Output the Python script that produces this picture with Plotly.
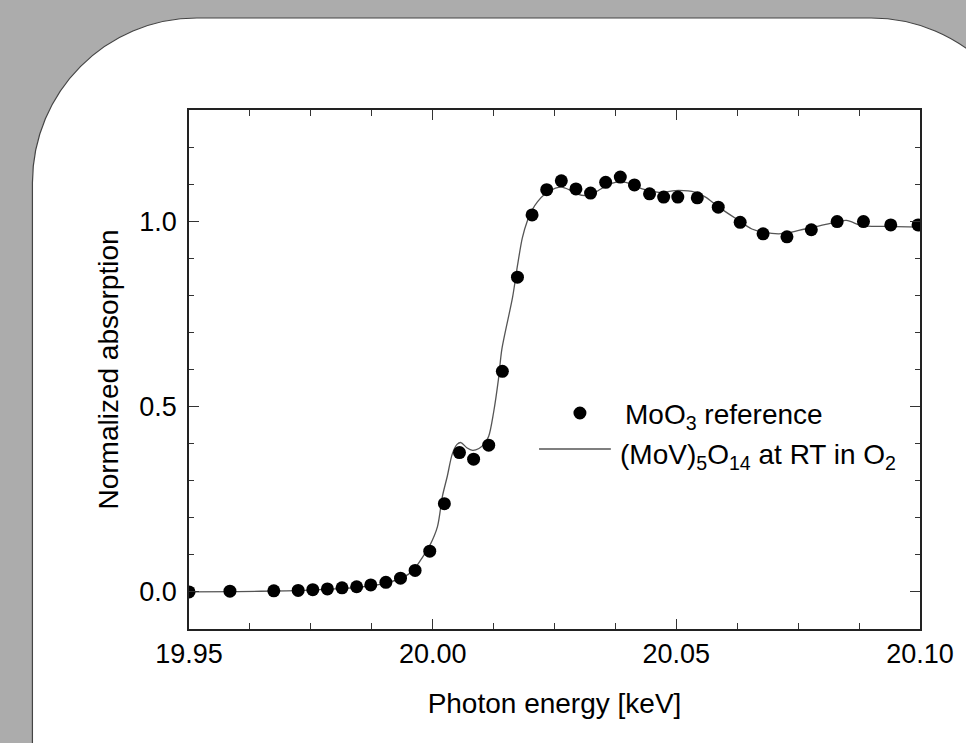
import plotly.graph_objects as go

# ---- data ----
ref_energy = [19.950, 19.9584, 19.9674, 19.9724, 19.9754, 19.9784, 19.9814, 19.9844, 19.9873,
              19.9904, 19.9934, 19.9964, 19.9994, 20.0024, 20.0055, 20.0084, 20.0115, 20.0143,
              20.0174, 20.0204, 20.0234, 20.0264, 20.0294, 20.0324, 20.0355, 20.0385, 20.0414,
              20.0445, 20.0474, 20.0503, 20.0543, 20.0586, 20.0631, 20.0678, 20.0727, 20.0777,
              20.0830, 20.0884, 20.0940, 20.0996]
ref_abs = [0.000, 0.002, 0.003, 0.004, 0.006, 0.008, 0.011, 0.014, 0.019,
           0.026, 0.037, 0.058, 0.110, 0.238, 0.376, 0.358, 0.396, 0.595,
           0.849, 1.017, 1.085, 1.109, 1.087, 1.076, 1.105, 1.119, 1.098,
           1.074, 1.065, 1.065, 1.063, 1.038, 0.997, 0.966, 0.958, 0.977,
           0.999, 0.999, 0.990, 0.990]

mov_energy = [19.950, 19.960, 19.970, 19.975, 19.980, 19.985, 19.988, 19.991, 19.994, 19.996,
              19.998, 19.9994, 20.0010, 20.0020, 20.0030, 20.0040, 20.0050, 20.0058, 20.0070,
              20.0082, 20.0095, 20.0105, 20.0115, 20.0125, 20.0135, 20.0142, 20.0164, 20.0174,
              20.0184, 20.0194, 20.0204, 20.0215, 20.0231, 20.0252, 20.0265, 20.0280, 20.0296,
              20.0313, 20.0325, 20.0340, 20.0358, 20.0375, 20.0396, 20.0415, 20.0430, 20.0464,
              20.0505, 20.0539, 20.0560, 20.0587, 20.0628, 20.0655, 20.0696, 20.0723, 20.0764,
              20.0812, 20.0849, 20.0880, 20.0927, 20.1000]
mov_abs = [0.000, 0.001, 0.003, 0.005, 0.008, 0.013, 0.018, 0.026, 0.040, 0.058,
           0.095, 0.125, 0.177, 0.258, 0.312, 0.371, 0.398, 0.403, 0.389,
           0.382, 0.387, 0.398, 0.420, 0.484, 0.574, 0.655, 0.795, 0.880,
           0.955, 1.000, 1.030, 1.052, 1.074, 1.089, 1.092, 1.085, 1.074,
           1.069, 1.072, 1.083, 1.097, 1.105, 1.105, 1.095, 1.087, 1.078,
           1.083, 1.078, 1.065, 1.038, 1.002, 0.979, 0.967, 0.967, 0.979,
           0.993, 1.002, 0.988, 0.986, 0.984]

x_ticks = [19.95, 20.00, 20.05, 20.10]
y_ticks = [0.0, 0.5, 1.0]
ref_label = "MoO<sub>3</sub> reference"
mov_label = "(MoV)<sub>5</sub>O<sub>14</sub> at RT in O<sub>2</sub>"

# ---- layout geometry (pixels) ----
W, H = 966, 743
L, R, T, B = 189, 922, 110, 629
PW, PH = R - L, B - T


def px(x):
    return (x - L) / PW


def py(y):
    return (B - y) / PH


FONT = "Liberation Sans, Arial, sans-serif"

fig = go.Figure()
fig.add_trace(go.Scatter(x=mov_energy, y=mov_abs, mode="lines", name="(MoV)5O14 at RT in O2",
                         line=dict(color="#555555", width=1.3, shape="spline", smoothing=0.8)))
fig.add_trace(go.Scatter(x=ref_energy, y=ref_abs, mode="markers", name="MoO3 reference",
                         marker=dict(color="black", size=13, line=dict(width=0))))

# white rounded panel
r = 165
k = 0.5523 * r
x_left, y_top, x_right = 32, 18, 873 + r
pts = [
    ("M", [(x_left, 780)]),
    ("L", [(x_left, y_top + r)]),
    ("C", [(x_left, y_top + r - k), (x_left + r - k, y_top), (x_left + r, y_top)]),
    ("L", [(x_right - r, y_top)]),
    ("C", [(x_right - r + k, y_top), (x_right, y_top + r - k), (x_right, y_top + r)]),
    ("L", [(x_right, 780)]),
]
path = ""
for cmd, plist in pts:
    path += cmd + " " + " ".join(f"{px(a):.5f},{py(b):.5f}" for a, b in plist) + " "
path += "Z"

shapes = [
    dict(type="path", xref="paper", yref="paper", path=path, layer="below",
         fillcolor="white", line=dict(color="#444444", width=1.2)),
    # legend symbols
    dict(type="line", xref="paper", yref="paper", x0=px(540), x1=px(612), y0=py(449), y1=py(449),
         line=dict(color="#555555", width=1.3)),
    dict(type="circle", xref="paper", yref="paper", xsizemode="pixel", ysizemode="pixel",
         xanchor=px(581), yanchor=py(413), x0=-6.5, x1=6.5, y0=-6.5, y1=6.5,
         fillcolor="black", line=dict(width=0)),
]

annotations = [
    dict(xref="paper", yref="paper", x=px(624), y=py(416), xanchor="left", yanchor="middle",
         text=ref_label, showarrow=False, font=dict(size=28, color="black", family=FONT)),
    dict(xref="paper", yref="paper", x=px(619), y=py(456), xanchor="left", yanchor="middle",
         text=mov_label, showarrow=False, font=dict(size=28, color="black", family=FONT)),
]

axis_common = dict(showline=True, linecolor="#222222", linewidth=1.5, mirror="allticks",
                   ticks="inside", tickcolor="#333333", tickwidth=1.3, ticklen=10,
                   showgrid=False, zeroline=False,
                   tickfont=dict(size=27, color="black", family=FONT))

fig.update_layout(
    width=W, height=H,
    margin=dict(l=L, r=W - R, t=T, b=H - B),
    paper_bgcolor="#acacac", plot_bgcolor="white",
    showlegend=False,
    shapes=shapes, annotations=annotations,
    font=dict(family=FONT, color="black"),
    xaxis=dict(range=[19.95, 20.10], tickvals=x_ticks, tickformat=".2f",
               minor=dict(dtick=0.0125, tick0=19.95, ticks="inside", ticklen=6,
                          tickcolor="#333333", tickwidth=1.2),
               ticklabelstandoff=0,
               title=dict(text="Photon energy [keV]", font=dict(size=28, color="black", family=FONT),
                          standoff=25),
               **axis_common),
    yaxis=dict(range=[-0.1, 1.3], tickvals=y_ticks, tickformat=".1f",
               minor=dict(dtick=0.1, tick0=0, ticks="inside", ticklen=5,
                          tickcolor="#333333", tickwidth=1.2),
               ticklabelstandoff=5,
               title=dict(text="Normalized absorption", font=dict(size=28, color="black", family=FONT),
                          standoff=13),
               **axis_common),
)

fig.write_html("out.html")
